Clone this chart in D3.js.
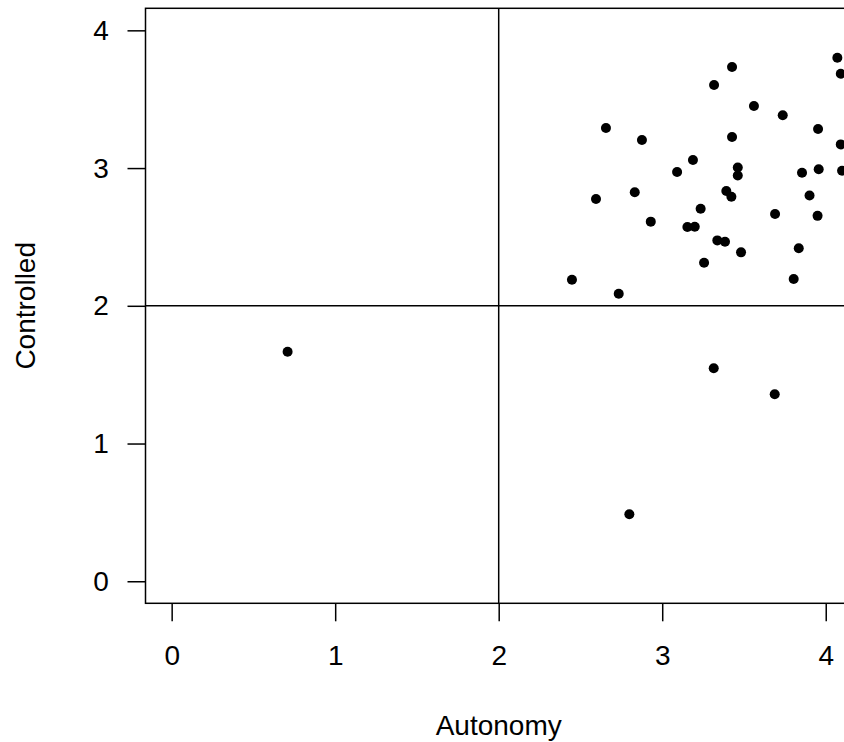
<!DOCTYPE html>
<html lang="en">
<head>
  <meta charset="UTF-8" />
  <title>Autonomy vs Controlled</title>
  <script src="https://d3js.org/d3.v7.min.js"></script>
  <style>
    body { margin: 0; overflow: hidden; background: #fff; }
    svg { display: block; font-family: "Liberation Sans", Arial, sans-serif; }
    .lbl { font-size: 28px; fill: #000; }
  </style>
</head>
<body>
<svg id="plot" width="844" height="742"></svg>
<script>
// values
const autonomy = [2.656, 2.876, 3.317, 3.427, 3.561, 3.737, 4.071, 4.092, 3.953, 3.427,
  4.092, 3.188, 3.091, 3.462, 3.462, 3.855, 3.957, 4.100, 2.595, 2.832,
  3.392, 3.423, 3.901, 3.235, 2.930, 3.690, 3.950, 3.154, 3.199, 3.337,
  3.384, 3.482, 3.835, 3.256, 2.448, 2.734, 3.804, 3.315, 3.688, 2.799, 0.709];
const controlled = [3.291, 3.204, 3.603, 3.734, 3.450, 3.383, 3.801, 3.685, 3.284, 3.225,
  3.172, 3.058, 2.971, 3.004, 2.946, 2.966, 2.991, 2.981, 2.775, 2.824,
  2.833, 2.792, 2.801, 2.705, 2.611, 2.666, 2.653, 2.572, 2.574, 2.475,
  2.465, 2.388, 2.418, 2.313, 2.189, 2.088, 2.195, 1.546, 1.358, 0.486, 1.667];
const xTicks = [0, 1, 2, 3, 4];
const yTicks = [0, 1, 2, 3, 4];
const cutX = 2, cutY = 2;

const svg = d3.select("#plot");
const pLeft = 145.5, pTop = 8.3, pRight = 851.9, pBottom = 603.3;

// R style: limits padded 4% each side
const x = d3.scaleLinear().domain([-0.16, 4.16]).range([pLeft, pRight]);
const y = d3.scaleLinear().domain([-0.16, 4.16]).range([pBottom, pTop]);

svg.append("clipPath").attr("id", "clip")
  .append("rect").attr("x", pLeft).attr("y", pTop)
  .attr("width", pRight - pLeft).attr("height", pBottom - pTop);

// quadrant lines
const g = svg.append("g").attr("clip-path", "url(#clip)");
g.append("line")
  .attr("x1", x(cutX)).attr("x2", x(cutX)).attr("y1", pTop).attr("y2", pBottom)
  .attr("stroke", "#000").attr("stroke-width", 1.5);
g.append("line")
  .attr("x1", pLeft).attr("x2", pRight).attr("y1", y(cutY)).attr("y2", y(cutY))
  .attr("stroke", "#000").attr("stroke-width", 1.5);

// points
g.selectAll("circle")
  .data(autonomy.map((a, i) => [a, controlled[i]]))
  .enter().append("circle")
  .attr("cx", d => x(d[0]))
  .attr("cy", d => y(d[1]))
  .attr("r", 5)
  .attr("fill", "#000");

// box
svg.append("rect")
  .attr("x", pLeft).attr("y", pTop)
  .attr("width", pRight - pLeft).attr("height", pBottom - pTop)
  .attr("fill", "none").attr("stroke", "#000").attr("stroke-width", 1.5);

// axes
const xAxis = svg.append("g")
  .attr("transform", `translate(0,${pBottom})`)
  .call(d3.axisBottom(x).tickValues(xTicks).tickSize(18).tickPadding(24).tickFormat(d3.format("d")));
const yAxis = svg.append("g")
  .attr("transform", `translate(${pLeft},0)`)
  .call(d3.axisLeft(y).tickValues(yTicks).tickSize(18).tickPadding(35).tickFormat(d3.format("d")));

[xAxis, yAxis].forEach(ax => {
  ax.select(".domain").remove();
  ax.selectAll("line").attr("stroke", "#000").attr("stroke-width", 1.5);
  ax.selectAll("text").attr("class", "lbl").attr("font-size", null).attr("font-family", null);
});
xAxis.selectAll("text").attr("dy", "0.71em");
yAxis.selectAll("text").attr("text-anchor", "middle").attr("dx", "0.3em");

svg.append("text").attr("class", "lbl")
  .attr("x", (x(0) + x(4)) / 2).attr("y", 725).attr("dy", "0.35em")
  .attr("text-anchor", "middle").text("Autonomy");

svg.append("text").attr("class", "lbl")
  .attr("transform", `translate(25,${(y(0) + y(4)) / 2}) rotate(-90)`)
  .attr("dy", "0.35em")
  .attr("text-anchor", "middle").text("Controlled");
</script>
</body>
</html>
